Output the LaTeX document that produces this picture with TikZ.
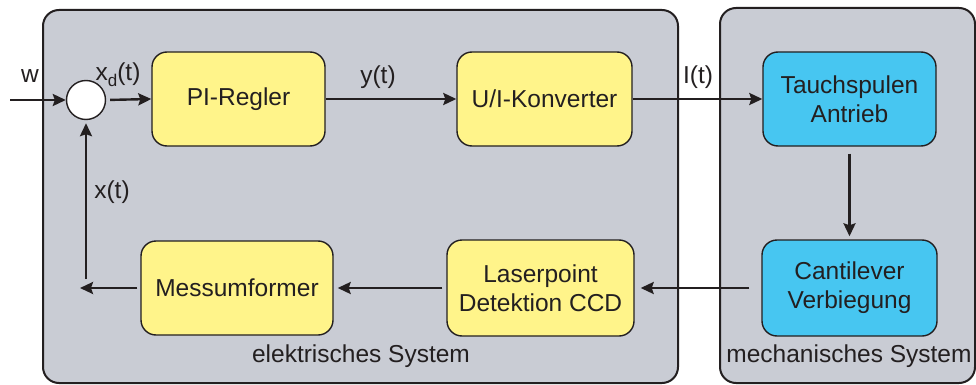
\documentclass[tikz,border=0pt]{standalone}
\usepackage{fontspec}
\setmainfont{Liberation Sans}
\usetikzlibrary{arrows.meta}
\definecolor{ink}{HTML}{231F20}
\definecolor{panelgray}{HTML}{C9CCD4}
\definecolor{elyellow}{HTML}{FFF48A}
\definecolor{mechblue}{HTML}{47C6F1}
\tikzset{
  panel/.style={draw=ink, line width=2pt, fill=panelgray, rounded corners=16pt},
  block/.style={draw=ink, line width=1.4pt, rounded corners=15pt, align=center,
    text=ink, font=\fontsize{24.5}{29}\selectfont, inner sep=0pt},
  eblock/.style={block, fill=elyellow},
  mblock/.style={block, fill=mechblue},
  sig/.style={draw=ink, line width=2.4pt, -{Stealth[length=13pt,width=12pt,inset=2pt]}},
  lbl/.style={text=ink, font=\fontsize{24.5}{29}\selectfont, inner sep=0pt},
}
\begin{document}
\begin{tikzpicture}[x=1pt, y=-1pt]
\useasboundingbox (0,0) rectangle (976,385);

% system panels
\draw[panel] (43,10) rectangle (678,383);
\draw[panel] (720,8) rectangle (975,383);

% summing junction
\node[circle, draw=ink, line width=1.4pt, fill=white, minimum size=39pt, inner sep=0pt] (sum) at (86,100) {};
\coordinate (win) at (10,100);

% blocks
\node[eblock, minimum width=173pt, minimum height=94pt] (pi) at (238.5,99) {PI-Regler};
\node[eblock, minimum width=175pt, minimum height=94pt] (ui) at (544.5,99) {U/I-Konverter};
\node[mblock, minimum width=173pt, minimum height=94pt] (ts) at (849.5,99) {Tauchspulen\\Antrieb};
\node[mblock, minimum width=175pt, minimum height=96pt] (cl) at (849.5,288) {Cantilever\\Verbiegung};
\node[eblock, minimum width=187pt, minimum height=96pt] (ld) at (540.5,288) {Laserpoint\\Detektion CCD};
\node[eblock, minimum width=192pt, minimum height=94pt] (mu) at (237,288) {Messumformer};

% feedback path ends
\coordinate (fbl) at (80,288);
\coordinate (fbt) at (86,279);

% signal connectors
\draw[sig] (win) -- (sum.west);
\draw[sig, shorten <=4pt] (sum.east) -- (pi.west);
\draw[sig] (pi.east) -- (ui.west);
\draw[sig] (ui.east) -- (ts.west);
\draw[sig, shorten <=7pt, shorten >=3pt] (ts.south) -- (cl.north);
\draw[sig, shorten <=12pt, shorten >=6pt] (cl.west) -- (ld.east);
\draw[sig, shorten <=4pt, shorten >=4pt] (ld.west) -- (mu.east);
\draw[sig, shorten <=3pt] (mu.west) -- (fbl);
\draw[sig, shorten >=3pt] (fbt) -- (sum.south);

% signal labels
\node[lbl] (lw) at (30,76) {w};
\node[lbl] (lxd) at (118,75) {x\raisebox{-0.25em}{\fontsize{17}{20}\selectfont d}(t)};
\node[lbl] (ly) at (378,77) {y(t)};
\node[lbl] (li) at (698,77) {I(t)};
\node[lbl] (lx) at (112,192) {x(t)};

% panel captions
\node[lbl] (cel) at (361,356) {elektrisches System};
\node[lbl] (cme) at (849,356) {mechanisches System};
\end{tikzpicture}
\end{document}
